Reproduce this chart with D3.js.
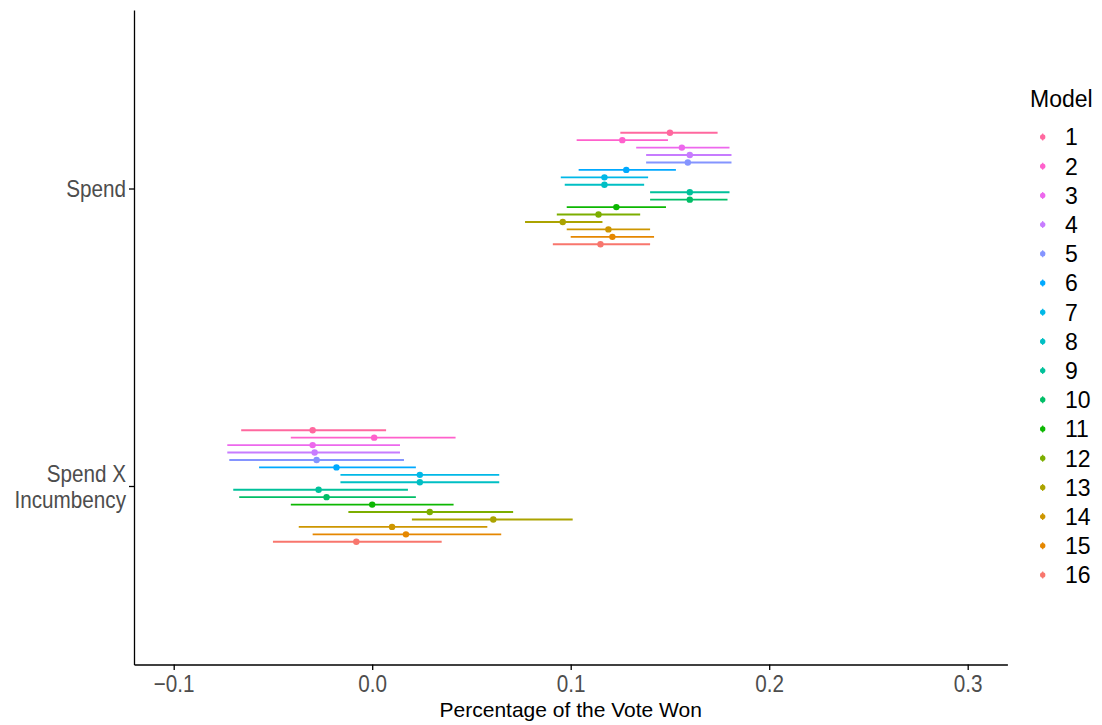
<!DOCTYPE html>
<html lang="en">
<head>
  <meta charset="UTF-8">
  <title>Percentage of the Vote Won by Model</title>
  <script src="https://d3js.org/d3.v7.min.js"></script>
  <style>
    body {
      margin: 0;
      background: #fff;
      font-family: "Liberation Sans", Arial, sans-serif;
    }

    .axis path,
    .axis line {
      stroke: #000;
      stroke-width: 1.3;
    }

    .axis text {
      fill: #4d4d4d;
      font-family: "Liberation Sans", Arial, sans-serif;
      font-size: 23.5px;
    }
  </style>
</head>
<body>
  <svg id="chart" width="1102" height="725"></svg>

  <script>
    // terms on the y axis, models in the legend
    const terms = ["Spend", "Spend X Incumbency"];
    const models = ["1", "2", "3", "4", "5", "6", "7", "8", "9", "10", "11", "12", "13", "14", "15", "16"];
    const modelColors = ["#FF689F", "#FF61CC", "#ED68ED", "#C77CFF", "#8494FF", "#00A9FF", "#00B8E7", "#00BFC4",
      "#00C19A", "#00BE67", "#0CB702", "#7CAE00", "#ABA300", "#CD9600", "#E58700", "#F8766D"];

    // estimates and interval ends, one value per model
    const spendEst = [0.150, 0.126, 0.156, 0.160, 0.159, 0.128, 0.117, 0.117, 0.160, 0.160, 0.123, 0.114, 0.096, 0.119, 0.121, 0.115];
    const spendLo = [0.125, 0.103, 0.133, 0.138, 0.138, 0.104, 0.095, 0.097, 0.140, 0.140, 0.098, 0.093, 0.077, 0.098, 0.100, 0.091];
    const spendHi = [0.174, 0.149, 0.180, 0.181, 0.181, 0.153, 0.139, 0.137, 0.180, 0.179, 0.148, 0.135, 0.116, 0.140, 0.142, 0.140];

    const interEst = [-0.030, 0.001, -0.030, -0.029, -0.028, -0.018, 0.024, 0.024, -0.027, -0.023, 0.000, 0.029, 0.061, 0.010, 0.017, -0.008];
    const interLo = [-0.066, -0.041, -0.073, -0.073, -0.072, -0.057, -0.016, -0.016, -0.070, -0.067, -0.041, -0.012, 0.020, -0.037, -0.030, -0.050];
    const interHi = [0.007, 0.042, 0.014, 0.014, 0.016, 0.022, 0.064, 0.064, 0.018, 0.022, 0.041, 0.071, 0.101, 0.058, 0.065, 0.035];

    const xTicks = [-0.1, 0.0, 0.1, 0.2, 0.3];

    const rows = [];
    models.forEach((m, i) => {
      rows.push({ term: terms[0], model: m, est: spendEst[i], lo: spendLo[i], hi: spendHi[i] });
      rows.push({ term: terms[1], model: m, est: interEst[i], lo: interLo[i], hi: interHi[i] });
    });

    const margin = { top: 10, left: 134 };
    const width = 873.4;
    const height = 654.5;
    const squeeze = 0.88; // axis text in the original is horizontally condensed

    const svg = d3.select("#chart");
    const g = svg.append("g").attr("transform", `translate(${margin.left},${margin.top})`);

    const x = d3.scaleLinear().domain([-0.12, 0.32]).range([0, width]);
    const y = d3.scalePoint().domain(terms).range([0, height]).padding(0.6);
    const step = y.step();
    const dodge = d3.scalePoint().domain(models).range([-0.2 * step, 0.2 * step]).padding(0.5);
    const color = d3.scaleOrdinal().domain(models).range(modelColors);

    // intervals
    g.selectAll(".range")
      .data(rows)
      .enter()
      .append("line")
      .attr("class", "range")
      .attr("x1", d => x(d.lo))
      .attr("x2", d => x(d.hi))
      .attr("y1", d => y(d.term) + dodge(d.model))
      .attr("y2", d => y(d.term) + dodge(d.model))
      .attr("stroke", d => color(d.model))
      .attr("stroke-width", 1.9);

    // point estimates
    g.selectAll(".est")
      .data(rows)
      .enter()
      .append("circle")
      .attr("class", "est")
      .attr("cx", d => x(d.est))
      .attr("cy", d => y(d.term) + dodge(d.model))
      .attr("r", 3.2)
      .attr("fill", d => color(d.model));

    // x axis
    const xAxis = g.append("g")
      .attr("class", "axis")
      .attr("transform", `translate(0,${height})`)
      .call(d3.axisBottom(x).tickValues(xTicks).tickSize(5.5).tickSizeOuter(0).tickPadding(5)
        .tickFormat(d => d3.format(".1f")(d).replace("-", "\u2212")));

    xAxis.selectAll(".tick text").attr("transform", `scale(${squeeze},1)`);

    // y axis
    const yAxis = g.append("g")
      .attr("class", "axis")
      .call(d3.axisLeft(y).tickSize(5).tickSizeOuter(0).tickPadding(3));

    yAxis.selectAll(".tick text").each(function (d) {
      const t = d3.select(this);
      t.attr("x", -8 / squeeze).attr("transform", `scale(${squeeze},1)`);
      if (d === "Spend X Incumbency") {
        t.text(null).attr("dy", null);
        t.append("tspan").attr("x", -8 / squeeze).attr("y", -5).text("Spend X");
        t.append("tspan").attr("x", -8 / squeeze).attr("y", 21.5).text("Incumbency");
      }
    });

    // x title
    svg.append("text")
      .attr("x", margin.left + width / 2)
      .attr("y", 717)
      .attr("text-anchor", "middle")
      .style("font-size", "21px")
      .style("fill", "#000")
      .text("Percentage of the Vote Won");

    // legend
    const legend = svg.append("g").attr("transform", "translate(1030,0)");
    legend.append("text")
      .attr("x", 0)
      .attr("y", 107)
      .style("font-size", "23px")
      .text("Model");

    const items = legend.selectAll(".item")
      .data(models)
      .enter()
      .append("g")
      .attr("class", "item")
      .attr("transform", (d, i) => `translate(0,${137 + i * 29.2})`);

    items.append("line")
      .attr("x1", 12.7).attr("x2", 12.7)
      .attr("y1", -3.5).attr("y2", 3.5)
      .attr("stroke", d => color(d))
      .attr("stroke-width", 1.2);

    items.append("circle")
      .attr("cx", 12.7)
      .attr("cy", 0)
      .attr("r", 2.7)
      .attr("fill", d => color(d));

    items.append("text")
      .attr("x", 35)
      .attr("y", 8.3)
      .style("font-size", "23px")
      .text(d => d);
  </script>
</body>
</html>
